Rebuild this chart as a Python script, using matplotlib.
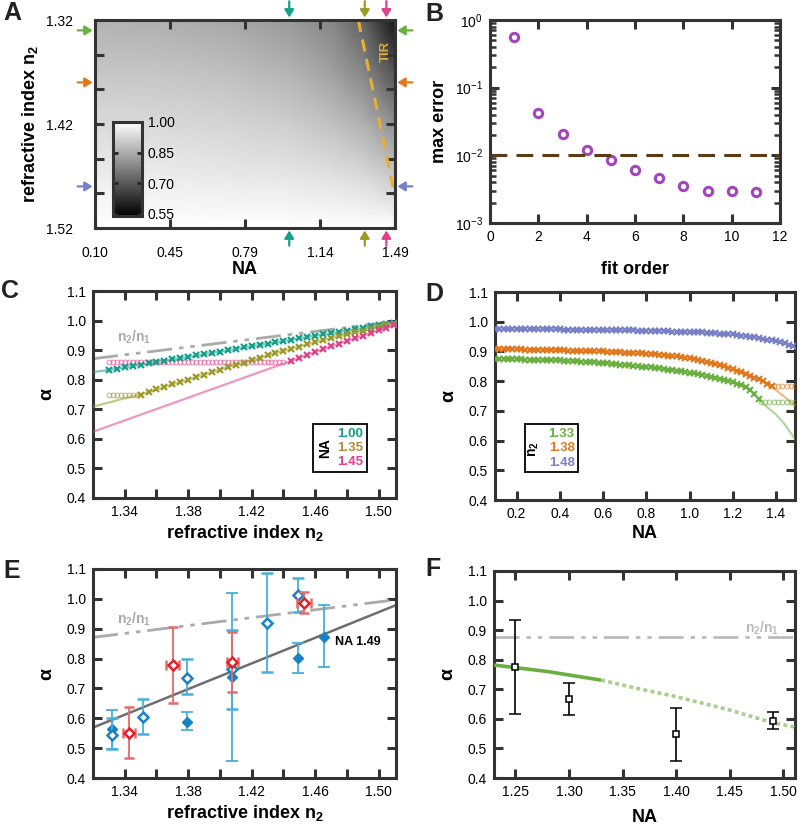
import numpy as np
import matplotlib
matplotlib.use("Agg")
import matplotlib.pyplot as plt
from matplotlib.patches import Rectangle
from matplotlib.ticker import LogLocator, NullFormatter

plt.rcParams.update({
    "font.family": ["Liberation Sans", "DejaVu Sans"],
    "mathtext.default": "regular",
    "axes.linewidth": 2.2,
    "axes.edgecolor": "#333333",
})

# ---------------- data ----------------
# Panel A: alpha map (rows: n2, cols: NA)
A_NA = [0.10, 0.40, 0.70, 1.00, 1.20, 1.35, 1.49]
A_N2 = [1.32, 1.37, 1.42, 1.47, 1.52]
A_ALPHA = [
    [0.860, 0.856, 0.842, 0.815, 0.780, 0.712, 0.575],
    [0.897, 0.894, 0.885, 0.865, 0.828, 0.778, 0.688],
    [0.933, 0.930, 0.923, 0.911, 0.888, 0.858, 0.798],
    [0.967, 0.965, 0.960, 0.955, 0.945, 0.930, 0.900],
    [1.000, 1.000, 1.000, 1.000, 1.000, 1.000, 1.000],
]
A_NA_MARKS = [1.00, 1.35, 1.45]
A_N2_MARKS = [1.33, 1.38, 1.48]
TIR_NA = [1.32, 1.49]
TIR_N2 = [1.32, 1.49]

# Panel B: max error vs fit order
B_ORDER = [1, 2, 3, 4, 5, 6, 7, 8, 9, 10, 11]
B_ERR = [0.57, 0.042, 0.021, 0.0121, 0.0084, 0.0061, 0.0046, 0.0035, 0.0030, 0.0030, 0.0029]
B_THRESH = 0.01

# Panel C: alpha vs n2 for NA = 1.00, 1.35, 1.45
C_N2 = [1.330, 1.335, 1.340, 1.345, 1.350, 1.355, 1.360, 1.365, 1.370, 1.375, 1.380,
        1.385, 1.390, 1.395, 1.400, 1.405, 1.410, 1.415, 1.420, 1.425, 1.430, 1.435,
        1.440, 1.445, 1.450, 1.455, 1.460, 1.465, 1.470, 1.475, 1.480, 1.485, 1.490,
        1.495, 1.500, 1.505, 1.510]
C_TEAL = [0.833, 0.837, 0.842, 0.846, 0.851, 0.855, 0.860, 0.864, 0.869, 0.873, 0.877,
          0.882, 0.886, 0.891, 0.895, 0.900, 0.904, 0.909, 0.913, 0.917, 0.922, 0.926,
          0.931, 0.935, 0.940, 0.944, 0.949, 0.953, 0.957, 0.962, 0.966, 0.971, 0.975,
          0.980, 0.984, 0.989, 0.993]
C_OLIVE_N2 = C_N2[4:]
C_OLIVE = [0.750, 0.759, 0.767, 0.776, 0.784, 0.792, 0.800, 0.809, 0.817, 0.825, 0.834,
           0.842, 0.850, 0.858, 0.866, 0.874, 0.882, 0.890, 0.898, 0.905, 0.912, 0.920,
           0.927, 0.934, 0.940, 0.947, 0.953, 0.960, 0.966, 0.972, 0.978, 0.984, 0.990]
C_PINK_N2 = C_N2[23:]
C_PINK = [0.864, 0.874, 0.884, 0.894, 0.903, 0.913, 0.922, 0.931, 0.940, 0.949, 0.958,
          0.967, 0.976, 0.985]
C_OLIVE_CIRC_N2 = [1.3300, 1.3325, 1.3350, 1.3375, 1.3400, 1.3425, 1.3450, 1.3475]
C_OLIVE_CIRC = [0.749] * 8
C_PINK_CIRC_N2 = [1.3300, 1.3325, 1.3350, 1.3375, 1.3400, 1.3425, 1.3450, 1.3475, 1.3500,
                  1.3525, 1.3550, 1.3575, 1.3600, 1.3625, 1.3650, 1.3675, 1.3700, 1.3725,
                  1.3750, 1.3775, 1.3800, 1.3825, 1.3850, 1.3875, 1.3900, 1.3925, 1.3950,
                  1.3975, 1.4000, 1.4025, 1.4050, 1.4075, 1.4100, 1.4125, 1.4150, 1.4175,
                  1.4200, 1.4225, 1.4250, 1.4275, 1.4300, 1.4325, 1.4350, 1.4375, 1.4400]
C_PINK_CIRC = [0.861] * 45
C_TEAL_FIT_START = (1.32, 0.826)
C_OLIVE_FIT_START = [(1.32, 0.709), (1.33, 0.723), (1.34, 0.737)]
C_PINK_FIT_START = (1.32, 0.624)
RATIO_N2 = [1.32, 1.511]
RATIO = [0.871, 0.997]

# Panel D: alpha vs NA for n2 = 1.33, 1.38, 1.48
D_NA = [0.10, 0.12, 0.14, 0.16, 0.18, 0.20, 0.22, 0.24, 0.26, 0.28, 0.30, 0.32, 0.34, 0.36,
        0.38, 0.40, 0.42, 0.44, 0.46, 0.48, 0.50, 0.52, 0.54, 0.56, 0.58, 0.60, 0.62, 0.64,
        0.66, 0.68, 0.70, 0.72, 0.74, 0.76, 0.78, 0.80, 0.82, 0.84, 0.86, 0.88, 0.90, 0.92,
        0.94, 0.96, 0.98, 1.00, 1.02, 1.04, 1.06, 1.08, 1.10, 1.12, 1.14, 1.16, 1.18, 1.20,
        1.22, 1.24, 1.26, 1.28, 1.30, 1.32, 1.34, 1.36, 1.38, 1.40, 1.42, 1.44, 1.46, 1.48]
D_GREEN = [0.874, 0.874, 0.874, 0.873, 0.873, 0.873, 0.873, 0.872, 0.872, 0.872, 0.872,
           0.871, 0.871, 0.870, 0.870, 0.870, 0.869, 0.868, 0.867, 0.867, 0.866, 0.865,
           0.864, 0.863, 0.862, 0.861, 0.860, 0.859, 0.858, 0.856, 0.855, 0.854, 0.852,
           0.851, 0.849, 0.848, 0.846, 0.844, 0.843, 0.841, 0.839, 0.837, 0.835, 0.833,
           0.831, 0.829, 0.826, 0.824, 0.821, 0.818, 0.815, 0.812, 0.808, 0.805, 0.801,
           0.797, 0.792, 0.787, 0.780, 0.770, 0.758, 0.740]
D_GREEN_EXT_NA = [1.33, 1.36, 1.40, 1.44, 1.49]
D_GREEN_EXT = [0.731, 0.712, 0.688, 0.655, 0.603]
D_GREEN_CIRC_NA = [1.33, 1.35, 1.37, 1.39, 1.41, 1.43, 1.45, 1.47, 1.49]
D_GREEN_CIRC = [0.731] * 9
D_ORANGE = [0.908, 0.908, 0.908, 0.907, 0.907, 0.907, 0.907, 0.906, 0.906, 0.906, 0.906,
            0.905, 0.905, 0.905, 0.904, 0.904, 0.904, 0.903, 0.903, 0.902, 0.902, 0.901,
            0.901, 0.900, 0.900, 0.900, 0.899, 0.898, 0.898, 0.897, 0.896, 0.896, 0.895,
            0.894, 0.894, 0.893, 0.892, 0.890, 0.889, 0.888, 0.886, 0.884, 0.883, 0.881,
            0.879, 0.877, 0.874, 0.872, 0.869, 0.866, 0.862, 0.858, 0.854, 0.850, 0.845,
            0.840, 0.835, 0.830, 0.824, 0.818, 0.812, 0.806, 0.800, 0.792, 0.782]
D_ORANGE_EXT_NA = [1.38, 1.40, 1.42, 1.44, 1.46, 1.49]
D_ORANGE_EXT = [0.782, 0.770, 0.758, 0.747, 0.735, 0.715]
D_ORANGE_CIRC_NA = [1.39, 1.41, 1.43, 1.45, 1.47, 1.49]
D_ORANGE_CIRC = [0.782] * 6
D_BLUE = [0.974, 0.974, 0.974, 0.974, 0.974, 0.974, 0.974, 0.974, 0.974, 0.974, 0.974,
          0.974, 0.974, 0.974, 0.974, 0.974, 0.973, 0.973, 0.973, 0.973, 0.973, 0.973,
          0.973, 0.973, 0.973, 0.973, 0.973, 0.972, 0.972, 0.972, 0.971, 0.971, 0.971,
          0.970, 0.970, 0.970, 0.969, 0.969, 0.968, 0.968, 0.968, 0.967, 0.967, 0.966,
          0.966, 0.966, 0.965, 0.964, 0.964, 0.963, 0.962, 0.961, 0.960, 0.959, 0.958,
          0.957, 0.955, 0.953, 0.952, 0.950, 0.948, 0.945, 0.943, 0.940, 0.937, 0.934,
          0.931, 0.927, 0.923, 0.918]

# Panel E: measurements
E_OPEN_N2 = [1.3318, 1.3517, 1.3795, 1.4075, 1.4295, 1.4490]
E_OPEN = [0.544, 0.605, 0.736, 0.765, 0.918, 1.013]
E_OPEN_LO = [0.497, 0.549, 0.680, 0.632, 0.756, 0.957]
E_OPEN_HI = [0.600, 0.663, 0.797, 0.897, 1.086, 1.069]
E_FILL_N2 = [1.3318, 1.3795, 1.4075, 1.4490, 1.4657]
E_FILL = [0.564, 0.588, 0.739, 0.801, 0.873]
E_FILL_LO = [0.497, 0.561, 0.458, 0.752, 0.773]
E_FILL_HI = [0.628, 0.622, 1.021, 0.853, 0.979]
E_RED_N2 = [1.3429, 1.3702, 1.4078, 1.4530]
E_RED = [0.552, 0.779, 0.790, 0.987]
E_RED_LO = [0.466, 0.652, 0.689, 0.952]
E_RED_HI = [0.639, 0.907, 0.888, 1.024]
E_RED_XERR = [0.0037, 0.0040, 0.0035, 0.0045]
E_FIT_N2 = [1.32, 1.511]
E_FIT = [0.569, 0.979]

# Panel F
F_NA = [1.25, 1.30, 1.40, 1.49]
F_ALPHA = [0.776, 0.667, 0.548, 0.594]
F_LO = [0.616, 0.613, 0.457, 0.566]
F_HI = [0.934, 0.722, 0.638, 0.623]
F_SOLID_NA = [1.23, 1.28, 1.33]
F_SOLID = [0.782, 0.760, 0.731]
F_DOT_NA = [1.33, 1.36, 1.40, 1.45, 1.49, 1.511]
F_DOT = [0.731, 0.706, 0.675, 0.630, 0.587, 0.572]
F_RATIO_NA = [1.23, 1.511]
F_RATIO = [0.876, 0.876]

# colours
TEAL, OLIVE, PINK = "#14A08A", "#9C9A28", "#E2418E"
GREEN, ORANGE, BLUE = "#69B040", "#E2781E", "#7880C8"
PURPLE = "#A346BE"
EBLUE, EBLUE_ERR = "#1A82C4", "#45B0DC"
ERED, ERED_ERR = "#E0202A", "#E56A6A"
GRAY = "#AAAAAA"
DASHDOT = (0, (9, 2.5, 1.6, 2.5, 1.6, 2.5))

fig = plt.figure(figsize=(8, 8.26), dpi=100)


def px_axes(l, t, r, b):
    return fig.add_axes([l / 800, 1 - b / 826, (r - l) / 800, (b - t) / 826])


def style(ax, pad=5):
    ax.tick_params(which="major", direction="in", length=6.5, width=2.2, top=True,
                   right=True, labelsize=10, pad=pad, color="#333333")


LBL = dict(fontsize=13, fontweight="bold")
YLBL = dict(fontsize=14, fontweight="bold")
TICKS_Y = np.arange(0.4, 1.101, 0.1)
TICKS_Y_LBL = ["0.4", "0.5", "0.6", "0.7", "0.8", "0.9", "1.0", "1.1"]

# ---------------- A ----------------
axA = px_axes(95, 20, 395, 228)
mesh = axA.pcolormesh(A_NA, A_N2, A_ALPHA, shading="gouraud", cmap="gray",
                      vmin=0.54, vmax=1.0, rasterized=True)
axA.set_xlim(0.10, 1.49)
axA.set_ylim(1.52, 1.32)
style(axA)
axA.tick_params(axis="x", pad=13)
axA.tick_params(axis="y", pad=16)
axA.set_xticks([0.10, 0.4475, 0.795, 1.1425, 1.49])
axA.set_xticklabels(["0.10", "0.45", "0.79", "1.14", "1.49"])
yt = [1.32 + k * 0.2 / 6 for k in range(7)]
axA.set_yticks(yt)
axA.set_yticklabels(["1.32", "", "", "1.42", "", "", "1.52"])
axA.set_xlabel("NA", labelpad=1, **LBL)
axA.set_ylabel("refractive index n$_2$", labelpad=4, **LBL)
axA.plot(TIR_NA, TIR_N2, color="#E8B030", lw=2.2, ls=(0, (4, 2.5)))
axA.text(1.447, 1.35, "TIR", rotation=90, color="#E0A830", fontsize=9.5,
         fontweight="bold", ha="center", va="center")
arrow_cols_na = [TEAL, OLIVE, PINK]
arrow_cols_n2 = [GREEN, ORANGE, BLUE]
ap = lambda c: dict(arrowstyle="-|>,head_width=0.28,head_length=0.45", color=c, lw=1.6,
                    shrinkA=0, shrinkB=0)
for v, c in zip(A_NA_MARKS, arrow_cols_na):
    axA.annotate("", xy=(v, 1.012), xytext=(v, 1.09),
                 xycoords=axA.get_xaxis_transform(), annotation_clip=False, arrowprops=ap(c))
    axA.annotate("", xy=(v, -0.012), xytext=(v, -0.085),
                 xycoords=axA.get_xaxis_transform(), annotation_clip=False, arrowprops=ap(c))
for v, c in zip(A_N2_MARKS, arrow_cols_n2):
    axA.annotate("", xy=(-0.008, v), xytext=(-0.058, v),
                 xycoords=axA.get_yaxis_transform(), annotation_clip=False, arrowprops=ap(c))
    axA.annotate("", xy=(1.008, v), xytext=(1.058, v),
                 xycoords=axA.get_yaxis_transform(), annotation_clip=False, arrowprops=ap(c))
cax = axA.inset_axes([0.06, 0.058, 0.097, 0.452])
cb = fig.colorbar(mesh, cax=cax)
cb.set_ticks([0.55, 0.70, 0.85, 1.00])
cb.set_ticklabels(["0.55", "0.70", "0.85", "1.00"])
cb.ax.tick_params(direction="in", length=3.5, width=2, left=True, right=True,
                  labelsize=10, pad=4, color="#222222")
cb.outline.set_linewidth(2.2)
cb.outline.set_edgecolor("#333333")

# ---------------- B ----------------
axB = px_axes(490, 20, 780, 223)
axB.semilogy(B_ORDER, B_ERR, "o", ms=6, mfc="none", mec=PURPLE, mew=2.2)
axB.axhline(B_THRESH, color="#5A3A14", lw=2.2, dashes=(5.5, 3))
axB.set_xlim(0, 12)
axB.set_ylim(1e-3, 1)
style(axB)
axB.set_xticks(range(0, 13, 2))
axB.yaxis.set_minor_locator(LogLocator(base=10, subs=np.arange(2, 10), numticks=10))
axB.yaxis.set_minor_formatter(NullFormatter())
axB.tick_params(which="minor", direction="in", length=4, width=1.8, left=True,
                right=True, color="#333333")
axB.set_xlabel("fit order", labelpad=12, **LBL)
axB.set_ylabel("max error", labelpad=5, **LBL)

# ---------------- C ----------------
axC = px_axes(93, 291, 396, 498)
axC.plot(RATIO_N2, RATIO, color=GRAY, lw=2, ls=DASHDOT, zorder=2)
axC.plot([C_TEAL_FIT_START[0]] + C_N2, [C_TEAL_FIT_START[1]] + C_TEAL, color=TEAL,
         lw=1.6, alpha=0.55, zorder=3)
axC.plot([p[0] for p in C_OLIVE_FIT_START] + C_OLIVE_N2,
         [p[1] for p in C_OLIVE_FIT_START] + C_OLIVE, color=OLIVE, lw=1.6, alpha=0.55, zorder=3)
axC.plot([C_PINK_FIT_START[0]] + C_PINK_N2, [C_PINK_FIT_START[1]] + C_PINK, color=PINK,
         lw=1.6, alpha=0.55, zorder=3)
axC.plot(C_PINK_CIRC_N2, C_PINK_CIRC, "o", ms=3.4, mfc="none", mec=PINK, mew=0.8,
         alpha=0.6, zorder=4)
axC.plot(C_OLIVE_CIRC_N2, C_OLIVE_CIRC, "o", ms=3.4, mfc="none", mec=OLIVE, mew=0.8,
         alpha=0.6, zorder=4)
axC.plot(C_N2, C_TEAL, "x", ms=4.5, mec=TEAL, mew=1.6, zorder=5)
axC.plot(C_OLIVE_N2, C_OLIVE, "x", ms=4.5, mec=OLIVE, mew=1.6, zorder=5)
axC.plot(C_PINK_N2, C_PINK, "x", ms=4.5, mec=PINK, mew=1.6, zorder=5)
axC.set_xlim(1.32, 1.511)
axC.set_ylim(0.4, 1.1)
style(axC)
axC.set_xticks([1.34, 1.36, 1.38, 1.40, 1.42, 1.44, 1.46, 1.48, 1.50])
axC.set_xticklabels(["1.34", "", "1.38", "", "1.42", "", "1.46", "", "1.50"])
axC.set_yticks(TICKS_Y)
axC.set_yticklabels(TICKS_Y_LBL)
axC.set_xlabel("refractive index n$_2$", labelpad=3, **LBL)
axC.set_ylabel("α", labelpad=8, **YLBL)
axC.text(1.335, 0.945, "n$_2$/n$_1$", color=GRAY, fontsize=10, fontweight="bold",
         ha="left", va="center")
axC.add_patch(Rectangle((0.726, 0.126), 0.178, 0.231, transform=axC.transAxes,
                        fc="white", ec="black", lw=1.3, zorder=6))
axC.text(0.765, 0.242, "NA", rotation=90, transform=axC.transAxes, fontsize=10,
         fontweight="bold", ha="center", va="center", zorder=7)
for yy, txt, c in zip([0.309, 0.242, 0.174], ["1.00", "1.35", "1.45"], [TEAL, "#B08C38", PINK]):
    axC.text(0.85, yy, txt, color=c, transform=axC.transAxes, fontsize=9.5,
             fontweight="bold", ha="center", va="center", zorder=7)

# ---------------- D ----------------
axD = px_axes(495, 292, 795, 500)
nG = len(D_GREEN)
nO = len(D_ORANGE)
axD.plot(D_NA[:nG] + D_GREEN_EXT_NA, D_GREEN + D_GREEN_EXT, color=GREEN, lw=1.6,
         alpha=0.5, zorder=3)
axD.plot(D_NA[:nO] + D_ORANGE_EXT_NA[1:], D_ORANGE + D_ORANGE_EXT[1:], color=ORANGE,
         lw=1.6, alpha=0.5, zorder=3)
axD.plot(D_NA, D_BLUE, color=BLUE, lw=1.6, alpha=0.5, zorder=3)
axD.plot(D_GREEN_CIRC_NA, D_GREEN_CIRC, "o", ms=3.4, mfc="none", mec=GREEN, mew=0.8,
         alpha=0.6, zorder=4)
axD.plot(D_ORANGE_CIRC_NA, D_ORANGE_CIRC, "o", ms=3.4, mfc="none", mec=ORANGE, mew=0.8,
         alpha=0.6, zorder=4)
axD.plot(D_NA[:nG], D_GREEN, "x", ms=4, mec=GREEN, mew=1.5, zorder=5)
axD.plot(D_NA[:nO], D_ORANGE, "x", ms=4, mec=ORANGE, mew=1.5, zorder=5)
axD.plot(D_NA, D_BLUE, "x", ms=4, mec=BLUE, mew=1.5, zorder=5)
axD.set_xlim(0.10, 1.488)
axD.set_ylim(0.4, 1.1)
style(axD)
axD.set_xticks([0.2, 0.4, 0.6, 0.8, 1.0, 1.2, 1.4])
axD.set_xticklabels(["0.2", "0.4", "0.6", "0.8", "1.0", "1.2", "1.4"])
axD.set_yticks(TICKS_Y)
axD.set_yticklabels(TICKS_Y_LBL)
axD.set_xlabel("NA", labelpad=3, **LBL)
axD.set_ylabel("α", labelpad=8, **YLBL)
axD.add_patch(Rectangle((0.1, 0.135), 0.177, 0.23, transform=axD.transAxes,
                        fc="white", ec="black", lw=1.3, zorder=6))
axD.text(0.13, 0.245, "n$_2$", rotation=90, transform=axD.transAxes, fontsize=10,
         fontweight="bold", ha="center", va="center", zorder=7)
for yy, txt, c in zip([0.317, 0.25, 0.178], ["1.33", "1.38", "1.48"], [GREEN, ORANGE, BLUE]):
    axD.text(0.222, yy, txt, color=c, transform=axD.transAxes, fontsize=9.5,
             fontweight="bold", ha="center", va="center", zorder=7)

# ---------------- E ----------------
axE = px_axes(93, 569, 396, 778)
axE.plot(RATIO_N2, RATIO, color=GRAY, lw=2, ls=DASHDOT, zorder=2)
axE.plot(E_FIT_N2, E_FIT, color="#6E6E6E", lw=1.8, zorder=2)
yerr_f = [np.array(E_FILL) - np.array(E_FILL_LO), np.array(E_FILL_HI) - np.array(E_FILL)]
axE.errorbar(E_FILL_N2, E_FILL, yerr=yerr_f, fmt="D", ms=5.5, mfc=EBLUE, mec=EBLUE,
             ecolor=EBLUE_ERR, elinewidth=1.3, capsize=4, capthick=1.3, zorder=4)
yerr_o = [np.array(E_OPEN) - np.array(E_OPEN_LO), np.array(E_OPEN_HI) - np.array(E_OPEN)]
axE.errorbar(E_OPEN_N2, E_OPEN, yerr=yerr_o, fmt="D", ms=5.5, mfc="white", mec=EBLUE,
             mew=1.8, ecolor=EBLUE_ERR, elinewidth=1.3, capsize=4, capthick=1.3, zorder=5)
yerr_r = [np.array(E_RED) - np.array(E_RED_LO), np.array(E_RED_HI) - np.array(E_RED)]
axE.errorbar(E_RED_N2, E_RED, yerr=yerr_r, xerr=E_RED_XERR, fmt="D", ms=5.5, mfc="white",
             mec=ERED, mew=1.8, ecolor=ERED_ERR, elinewidth=1.3, capsize=3.5, capthick=1.3,
             zorder=6)
axE.set_xlim(1.32, 1.511)
axE.set_ylim(0.4, 1.1)
style(axE)
axE.set_xticks([1.34, 1.36, 1.38, 1.40, 1.42, 1.44, 1.46, 1.48, 1.50])
axE.set_xticklabels(["1.34", "", "1.38", "", "1.42", "", "1.46", "", "1.50"])
axE.set_yticks(TICKS_Y)
axE.set_yticklabels(TICKS_Y_LBL)
axE.set_xlabel("refractive index n$_2$", labelpad=3, **LBL)
axE.set_ylabel("α", labelpad=8, **YLBL)
axE.text(1.335, 0.93, "n$_2$/n$_1$", color=GRAY, fontsize=10, fontweight="bold",
         ha="left", va="center")
axE.text(1.4725, 0.855, "NA 1.49", color="black", fontsize=9, fontweight="bold",
         ha="left", va="center")

# ---------------- F ----------------
axF = px_axes(494, 571, 795, 778)
axF.plot(F_RATIO_NA, F_RATIO, color="#BBBBBB", lw=2, ls=DASHDOT, zorder=2)
axF.plot(F_SOLID_NA, F_SOLID, color=GREEN, lw=2.6, solid_capstyle="butt", zorder=3)
axF.plot(F_DOT_NA, F_DOT, color="#A8D08C", lw=2.6, ls=(0, (1.1, 0.9)), zorder=3)
yerr_F = [np.array(F_ALPHA) - np.array(F_LO), np.array(F_HI) - np.array(F_ALPHA)]
axF.errorbar(F_NA, F_ALPHA, yerr=yerr_F, fmt="s", ms=5, mfc="white", mec="black",
             mew=1.1, ecolor="black", elinewidth=1.2, capsize=4.5, capthick=1.2, zorder=5)
axF.set_xlim(1.23, 1.511)
axF.set_ylim(0.4, 1.1)
style(axF)
axF.set_xticks([1.25, 1.30, 1.35, 1.40, 1.45, 1.50])
axF.set_xticklabels(["1.25", "1.30", "1.35", "1.40", "1.45", "1.50"])
axF.set_yticks(TICKS_Y)
axF.set_yticklabels(TICKS_Y_LBL)
axF.set_xlabel("NA", labelpad=7, **LBL)
axF.set_ylabel("α", labelpad=8, **YLBL)
axF.text(1.464, 0.905, "n$_2$/n$_1$", color="#BBBBBB", fontsize=10, fontweight="bold",
         ha="left", va="center")

# panel letters
for (x, y, s) in [(12, 13, "A"), (434, 14, "B"), (10, 291, "C"), (434, 294, "D"),
                  (12, 571, "E"), (433, 569, "F")]:
    fig.text(x / 800, 1 - y / 826, s, fontsize=18, fontweight="bold", ha="center",
             va="center", color="#222222")

fig.savefig("out.png", dpi=100)
